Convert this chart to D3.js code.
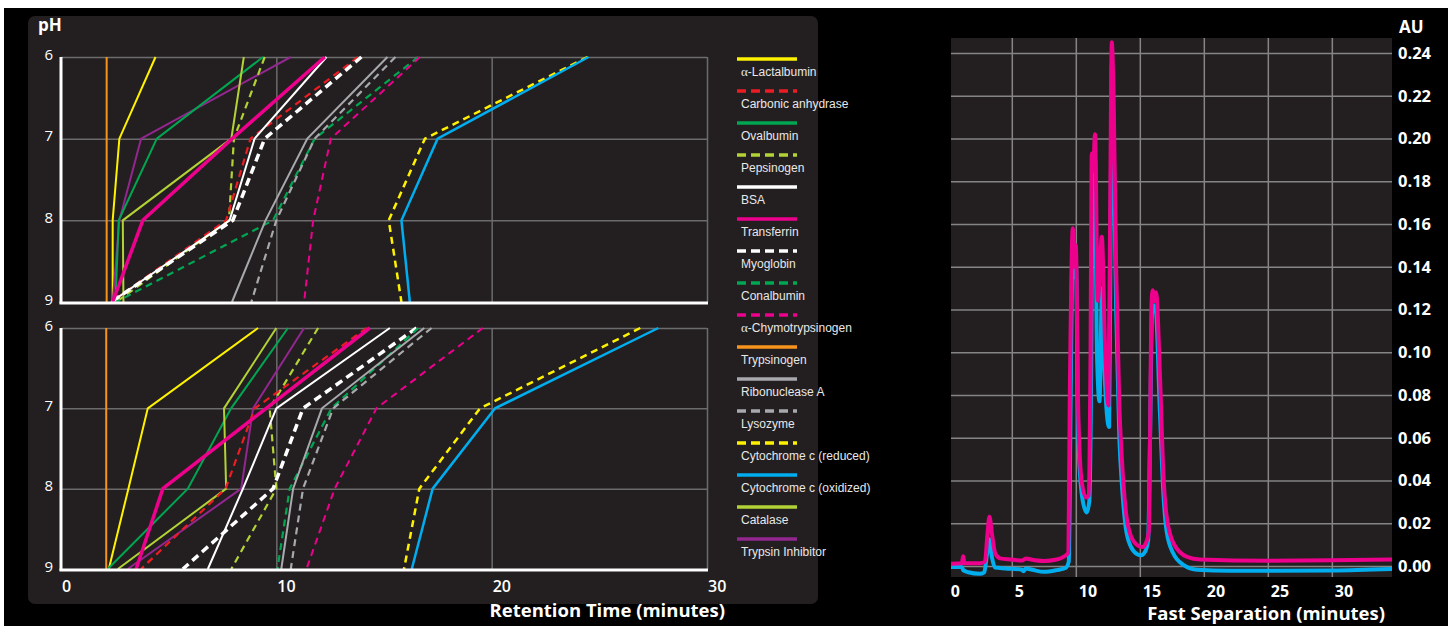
<!DOCTYPE html>
<html>
<head>
<meta charset="utf-8">
<script src="https://cdn.jsdelivr.net/npm/d3@7"></script>
<style>
  body { margin: 0; background: #fff; }
  svg { display: block; }
  .grid line { stroke: #6c6c6c; stroke-width: 1.5; }
  .grid2 line { stroke: #858585; stroke-width: 1.5; }
  .tick-num { fill: #fff; font-family: "Open Sans", sans-serif; }
  .legend-label { fill: #e8e8e8; font-family: "Liberation Sans", Arial, sans-serif; font-size: 12px; }
</style>
</head>
<body>
<script>
// ---- data ----
var proteins = ["α-Lactalbumin", "Carbonic anhydrase", "Ovalbumin", "Pepsinogen", "BSA",
    "Transferrin", "Myoglobin", "Conalbumin", "α-Chymotrypsinogen", "Trypsinogen",
    "Ribonuclease A", "Lysozyme", "Cytochrome c (reduced)", "Cytochrome c (oxidized)",
    "Catalase", "Trypsin Inhibitor"];

var phSteps = [6, 7, 8, 9];

// retention time (minutes) at pH 6, 7, 8, 9 -- upper panel
var timesUpper = [
    [4.39, 2.71, 2.40, 2.40],
    [13.8, 8.80, 7.67, 2.33],
    [9.38, 4.45, 2.68, 2.53],
    [9.46, 8.03, 7.80, 2.56],
    [12.33, 8.99, 7.83, 2.33],
    [12.25, 7.95, 3.80, 2.40],
    [13.95, 9.46, 7.98, 2.33],
    [16.59, 11.78, 9.85, 2.56],
    [16.67, 12.53, 11.71, 11.29],
    [2.12, 2.12, 2.12, 2.12],
    [15.16, 11.44, 9.50, 7.94],
    [15.53, 11.78, 10.0, 8.84],
    [24.45, 16.90, 15.22, 15.81],
    [24.50, 17.49, 15.81, 16.20],
    [8.49, 7.91, 2.87, 2.90],
    [10.67, 3.72, 2.71, 2.40]
];

// lower panel
var timesLower = [
    [9.15, 4.03, 3.13, 2.22],
    [14.2, 9.00, 7.64, 3.72],
    [10.54, 7.90, 5.89, 2.17],
    [11.94, 9.69, 10.0, 7.91],
    [15.27, 10.0, 8.45, 6.82],
    [14.34, 9.53, 4.73, 3.49],
    [16.51, 11.24, 9.85, 5.66],
    [16.59, 12.56, 10.62, 10.05],
    [19.59, 14.65, 12.71, 11.40],
    [2.10, 2.10, 2.10, 2.10],
    [16.87, 12.12, 10.78, 10.23],
    [17.21, 12.64, 11.24, 10.67],
    [26.90, 19.46, 16.64, 15.93],
    [27.74, 20.16, 17.26, 16.29],
    [10.0, 7.57, 7.67, 2.64],
    [11.29, 8.92, 8.37, 3.10]
];

var retentionTicks = [0, 10, 20, 30];

// fast separation chromatogram (minutes, AU)
var pinkTime = [0.3, 1.1, 1.2, 1.3, 2.5, 2.9, 3.1, 3.25, 3.45, 3.7, 4.1, 5.0, 5.8, 6.1, 6.5, 7.5, 8.5, 9.1, 9.4,
    9.55, 9.76, 9.9, 10.0, 10.2, 10.47, 10.8, 11.0, 11.15, 11.25, 11.35, 11.5, 11.72, 12.03, 12.3, 12.55,
    12.7, 12.81, 12.95, 13.15, 13.4, 13.6, 13.9, 14.3, 14.8, 15.2, 15.5, 15.7, 15.8, 15.9, 16.0, 16.15,
    16.27, 16.58, 16.85, 17.1, 17.63, 18.7, 19.7, 25, 30, 34.7];
var pinkAU = [0.0010, 0.0012, 0.0045, 0.0012, 0.0012, 0.0020, 0.015, 0.023, 0.015, 0.006, 0.0035, 0.0030,
    0.0025, 0.0035, 0.0030, 0.0023, 0.0030, 0.0045, 0.0060,
    0.090, 0.158, 0.140, 0.150, 0.070, 0.039, 0.032, 0.033, 0.100, 0.193, 0.185, 0.202, 0.124, 0.154, 0.100, 0.075,
    0.180, 0.245, 0.220, 0.140, 0.075, 0.050, 0.026, 0.014, 0.0097, 0.0088, 0.011, 0.016, 0.060, 0.120, 0.129, 0.124,
    0.128, 0.088, 0.042, 0.023, 0.0106, 0.0042, 0.0030, 0.0024, 0.0026, 0.0030];

var blueTime = [0.3, 1.1, 1.2, 1.6, 2.5, 2.85, 3.05, 3.25, 3.45, 3.7, 4.5, 5.8, 5.9, 6.1, 6.6, 7.5, 8.5, 9.2, 9.45,
    9.6, 9.76, 9.9, 10.0, 10.2, 10.5, 10.85, 11.05, 11.2, 11.3, 11.5, 11.65, 11.85, 12.05, 12.25, 12.6,
    12.72, 12.82, 12.95, 13.15, 13.4, 13.6, 13.9, 14.3, 14.8, 15.1, 15.4, 15.65, 15.8, 15.95, 16.1, 16.25,
    16.55, 16.85, 17.1, 17.6, 18.4, 19.5, 22, 30, 34.7];
var blueAU = [-0.0005, -0.0005, -0.0020, -0.0030, -0.0037, -0.0030, 0.0050, 0.0125, 0.0040, -0.0008, -0.0012,
    -0.0018, -0.0025, -0.0012, -0.0018, -0.0028, -0.0020, -0.0010, 0.0020,
    0.080, 0.152, 0.135, 0.143, 0.060, 0.032, 0.025, 0.030, 0.090, 0.180, 0.190, 0.100, 0.077, 0.130, 0.090, 0.065,
    0.160, 0.235, 0.200, 0.120, 0.060, 0.038, 0.018, 0.009, 0.0055, 0.0050, 0.0065, 0.012, 0.060, 0.118, 0.122, 0.120,
    0.075, 0.033, 0.016, 0.006, 0.0005, -0.0018, -0.0023, -0.0022, -0.0015];

var fastXTicks = [0, 5, 10, 15, 20, 25, 30];
var fastYTicks = [0, 0.02, 0.04, 0.06, 0.08, 0.10, 0.12, 0.14, 0.16, 0.18, 0.20, 0.22, 0.24];

// ---- styles per protein ----
var proteinColor = ["#fff200", "#ed1c24", "#00a651", "#b2d235", "#ffffff", "#ec008c", "#ffffff", "#00a651",
    "#ec008c", "#f7941d", "#a7a9ac", "#a7a9ac", "#fff200", "#00aeef", "#b2d235", "#92278f"];
var proteinDashed = [false, true, false, true, false, false, true, true,
    true, false, false, true, true, false, false, false];
var proteinWidth = [2, 2.2, 2, 2.2, 2, 3.5, 3.5, 2.2, 2, 2, 2, 2.2, 2.5, 2.5, 2, 2];
var drawOrder = [9, 0, 15, 2, 14, 3, 1, 4, 6, 7, 10, 11, 8, 12, 13, 5];

// ---- chart ----
var W = 1448, H = 626;
var svg = d3.select("body").append("svg").attr("width", W).attr("height", H);

svg.append("rect").attr("width", W).attr("height", H).attr("fill", "#fff");
svg.append("rect").attr("x", 4).attr("y", 8).attr("width", W - 4).attr("height", H - 8).attr("fill", "#000");

// left panel
svg.append("rect")
    .attr("x", 28).attr("y", 16).attr("width", 790).attr("height", 588).attr("rx", 7)
    .attr("fill", "#231f20");

var xRet = d3.scaleLinear().domain([0, 30]).range([61, 707]);
var yUpper = d3.scaleLinear().domain([6, 9]).range([57, 302]);
var yLower = d3.scaleLinear().domain([6, 9]).range([328, 569]);

function drawPanel(yScale, times) {
    var g = svg.append("g");
    var x0 = xRet.range()[0], x1 = xRet.range()[1];
    var yTop = yScale(6), yBot = yScale(9);

    g.append("g").attr("class", "grid")
        .attr("transform", "translate(" + x0 + ",0)")
        .call(d3.axisLeft(yScale).tickValues([6, 7, 8]).tickSize(-(x1 - x0)).tickFormat(""))
        .call(function(a) { a.select(".domain").remove(); });

    g.append("g").attr("class", "grid")
        .attr("transform", "translate(0," + yBot + ")")
        .call(d3.axisBottom(xRet).tickValues([10, 20, 30]).tickSize(-(yBot - yTop)).tickFormat(""))
        .call(function(a) { a.select(".domain").remove(); });

    var phAxis = g.append("g")
        .attr("transform", "translate(" + (x0 - 8) + ",0)")
        .call(d3.axisLeft(yScale).tickValues(phSteps).tickSize(0).tickPadding(0).tickFormat(d3.format("d")));
    phAxis.select(".domain").remove();
    phAxis.selectAll("text")
        .attr("class", "tick-num")
        .attr("dy", null).attr("y", 2)
        .style("font-size", "15px");

    var line = d3.line()
        .x(function(d) { return xRet(d.t); })
        .y(function(d) { return yScale(d.ph); });

    drawOrder.forEach(function(i) {
        var pts = phSteps.map(function(p, k) { return {ph: p, t: times[i][k]}; });
        g.append("path")
            .datum(pts)
            .attr("d", line)
            .attr("fill", "none")
            .attr("stroke", proteinColor[i])
            .attr("stroke-width", proteinWidth[i])
            .attr("stroke-dasharray", proteinDashed[i] ? (proteinWidth[i] > 3 ? "8,5" : "7,5") : null);
    });

    // white axes
    g.append("line").attr("x1", x0).attr("x2", x0).attr("y1", yTop).attr("y2", yBot + 1.5)
        .attr("stroke", "#fff").attr("stroke-width", 3);
    g.append("line").attr("x1", x0 - 1.5).attr("x2", x1 + 1).attr("y1", yBot + 1).attr("y2", yBot + 1)
        .attr("stroke", "#fff").attr("stroke-width", 3);
}

drawPanel(yUpper, timesUpper);
drawPanel(yLower, timesLower);

svg.append("text").attr("x", 38).attr("y", 31).text("pH")
    .attr("fill", "#fff").style("font-family", "Open Sans, sans-serif")
    .style("font-weight", 700).style("font-size", "17px");

svg.selectAll(".ret-tick").data(retentionTicks).enter().append("text")
    .attr("class", "tick-num")
    .attr("x", function(d) { return xRet(d) + 1; })
    .attr("y", 592)
    .style("font-size", "16px").style("font-weight", 600)
    .text(function(d) { return d; });

svg.append("text").attr("x", 725).attr("y", 617).attr("text-anchor", "end")
    .text("Retention Time (minutes)")
    .attr("fill", "#fff").style("font-family", "Open Sans, sans-serif")
    .style("font-weight", 700).style("font-size", "18.5px");

// legend
var legend = svg.selectAll(".legend-item").data(proteins).enter().append("g")
    .attr("class", "legend-item")
    .attr("transform", function(d, i) { return "translate(737," + (59 + i * 32) + ")"; });

legend.append("line")
    .attr("x1", 0).attr("x2", 60).attr("y1", 0).attr("y2", 0)
    .attr("stroke", function(d, i) { return proteinColor[i]; })
    .attr("stroke-width", 3.5)
    .attr("stroke-dasharray", function(d, i) { return proteinDashed[i] ? "9,5" : null; });

legend.append("text")
    .attr("class", "legend-label")
    .attr("x", 4).attr("y", 17)
    .each(function(d) {
        var t = d3.select(this);
        if (d.charAt(0) === "α") {
            t.append("tspan").style("font-family", "Liberation Serif, serif").style("font-size", "13px").text("α");
            t.append("tspan").text(d.slice(1));
        } else {
            t.text(d);
        }
    });

// ---- fast separation chromatogram ----
var xFast = d3.scaleLinear().domain([0.25, 34.7]).range([951, 1392]);
var yAU = d3.scaleLinear().domain([-0.0052, 0.247]).range([577, 38]);

var fx0 = xFast.range()[0], fx1 = xFast.range()[1];
var fy0 = yAU.range()[1], fy1 = yAU.range()[0];

svg.append("rect").attr("x", fx0).attr("y", fy0).attr("width", fx1 - fx0).attr("height", fy1 - fy0)
    .attr("fill", "#231f20");

svg.append("g").attr("class", "grid2")
    .attr("transform", "translate(" + fx0 + ",0)")
    .call(d3.axisLeft(yAU).tickValues(fastYTicks).tickSize(-(fx1 - fx0)).tickFormat(""))
    .call(function(a) { a.select(".domain").remove(); });

svg.append("g").attr("class", "grid2")
    .attr("transform", "translate(0," + fy1 + ")")
    .call(d3.axisBottom(xFast).tickValues(fastXTicks.slice(1)).tickSize(-(fy1 - fy0)).tickFormat(""))
    .call(function(a) { a.select(".domain").remove(); });

svg.append("clipPath").attr("id", "fast-clip").append("rect")
    .attr("x", fx0).attr("y", fy0).attr("width", fx1 - fx0).attr("height", fy1 - fy0);

var fastLine = d3.line()
    .x(function(d) { return xFast(d[0]); })
    .y(function(d) { return yAU(d[1]); })
    .curve(d3.curveMonotoneX);

var traces = [
    {t: blueTime, v: blueAU, color: "#00aeef"},
    {t: pinkTime, v: pinkAU, color: "#ec008c"}
];

svg.append("g").attr("clip-path", "url(#fast-clip)")
    .selectAll("path").data(traces).enter().append("path")
    .attr("d", function(d) { return fastLine(d.t.map(function(t, i) { return [t, d.v[i]]; })); })
    .attr("fill", "none")
    .attr("stroke", function(d) { return d.color; })
    .attr("stroke-width", 4)
    .attr("stroke-linejoin", "round")
    .attr("stroke-linecap", "round");

svg.selectAll(".au-tick").data(fastYTicks).enter().append("text")
    .attr("class", "tick-num")
    .attr("x", 1398).attr("y", function(d) { return yAU(d) + 6; })
    .style("font-size", "16.5px").style("font-weight", 700)
    .text(function(d) { return d3.format(".2f")(d); });

svg.selectAll(".fast-tick").data(fastXTicks).enter().append("text")
    .attr("class", "tick-num")
    .attr("x", function(d) { return xFast(d) + 3; })
    .attr("y", 597)
    .style("font-size", "16px").style("font-weight", 700)
    .text(function(d) { return d; });

svg.append("text").attr("x", 1399).attr("y", 33).text("AU")
    .attr("fill", "#fff").style("font-family", "Open Sans, sans-serif")
    .style("font-weight", 700).style("font-size", "17px");

svg.append("text").attr("x", 1385).attr("y", 620).attr("text-anchor", "end")
    .text("Fast Separation (minutes)")
    .attr("fill", "#fff").style("font-family", "Open Sans, sans-serif")
    .style("font-weight", 700).style("font-size", "18.5px");
</script>
</body>
</html>
